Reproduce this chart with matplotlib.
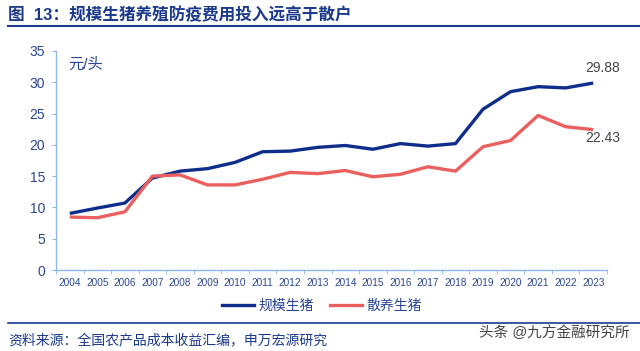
import matplotlib
matplotlib.use('Agg')
import matplotlib.pyplot as plt
from matplotlib.lines import Line2D
import numpy as np

plt.rcParams['font.family'] = ['Liberation Sans', 'Noto Sans CJK SC']

# data
years = [str(y) for y in range(2004, 2024)]
guimo = [9.04, 9.9, 10.7, 14.7, 15.8, 16.2, 17.2, 18.9, 19.0, 19.6,
         19.9, 19.3, 20.2, 19.8, 20.2, 25.7, 28.5, 29.3, 29.1, 29.88]
sanyang = [8.46, 8.35, 9.3, 15.0, 15.2, 13.6, 13.6, 14.5, 15.6, 15.4,
           15.9, 14.9, 15.3, 16.5, 15.8, 19.7, 20.7, 24.7, 22.9, 22.43]
series_names = ['规模生猪', '散养生猪']

navy = '#0F2D8A'
red = '#E9605F'
axis_blue = '#8DB8E3'
text_blue = '#2A4594'

fig = plt.figure(figsize=(6.4, 3.51), dpi=100)
ax = fig.add_axes([56/640, 1-270/351, (607-56)/640, (270-51)/351])

x = np.arange(len(years))
ax.plot(x, guimo, color=navy, lw=2.4, solid_capstyle='butt')
ax.plot(x, sanyang, color=red, lw=2.4, solid_capstyle='butt')

ax.set_xlim(-0.5, len(years)-0.5)
ax.set_ylim(0, 35)
ax.set_yticks(range(0, 36, 5))
ax.set_xticks(x)
ax.set_xticklabels(years, fontsize=7.2, color=text_blue)
ax.set_xticks(np.arange(-0.5, len(years), 1), minor=True)
ax.tick_params(axis='x', which='major', length=0, pad=6)
ax.tick_params(axis='x', which='minor', length=3, color=axis_blue, direction='out')
ax.tick_params(axis='y', length=3, color=axis_blue, labelsize=10, labelcolor=text_blue, pad=5)

for s in ['top', 'right']:
    ax.spines[s].set_visible(False)
for s in ['left', 'bottom']:
    ax.spines[s].set_color(axis_blue)
    ax.spines[s].set_linewidth(1.0)

ax.text(0.022, 0.97, '元/头', transform=ax.transAxes, fontsize=11,
        color=text_blue, va='top', ha='left')
ax.annotate(f'{guimo[-1]:.2f}', (x[-1], guimo[-1]), xytext=(6.5, 6),
            textcoords='offset points', ha='center', va='bottom',
            fontsize=10, color='#444444')
ax.annotate(f'{sanyang[-1]:.2f}', (x[-1], sanyang[-1]), xytext=(6.5, -1),
            textcoords='offset points', ha='center', va='top',
            fontsize=10, color='#444444')

handles = [Line2D([], [], color=navy, lw=2.4), Line2D([], [], color=red, lw=2.4)]
fig.legend(handles, series_names, loc='center', bbox_to_anchor=(322/640, 1-306/351),
           ncol=2, frameon=False, fontsize=10, handlelength=2.3,
           columnspacing=1.15, handletextpad=0.3, labelcolor=text_blue,
           borderpad=0)

# title and rules
fig.text(8/640, 1-15/351, '图  13：规模生猪养殖防疫费用投入远高于散户', fontsize=12,
         fontweight='bold', color='#1C3A8C', va='center', ha='left')
fig.add_artist(Line2D([8/640, 1], [1-26/351, 1-26/351], color='#1C3A8C', lw=1.5))
fig.add_artist(Line2D([8/640, 1], [1-323/351, 1-323/351], color='#1C3A8C', lw=1.2))
fig.text(8/640, 1-340/351, '资料来源：全国农产品成本收益汇编，申万宏源研究', fontsize=10,
         color='#1C3A8C', va='center', ha='left')
fig.text(630/640, 1-333/351, '头条 @九方金融研究所', fontsize=10.5,
         color='#444444', va='center', ha='right')

fig.savefig('out.png', dpi=100)
